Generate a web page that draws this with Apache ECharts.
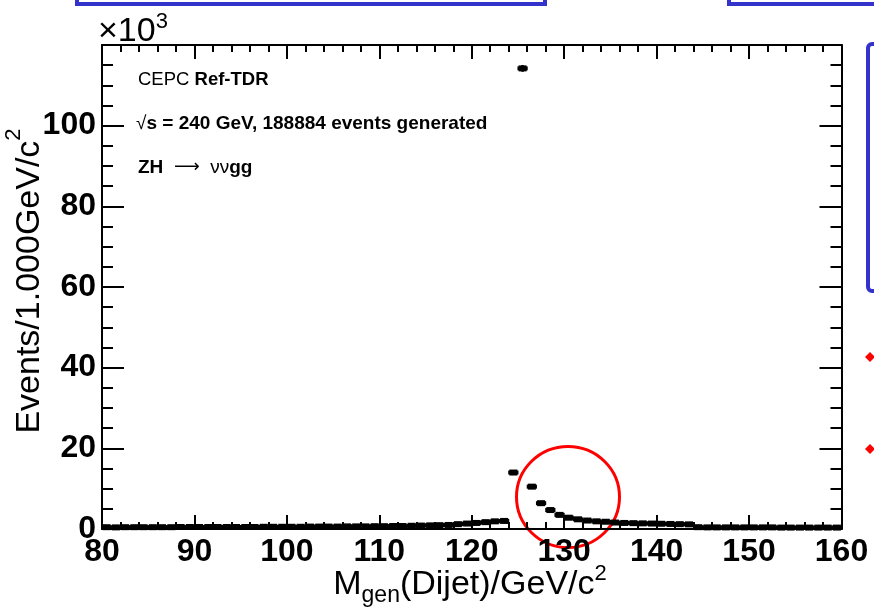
<!DOCTYPE html>
<html>
<head>
<meta charset="utf-8">
<script src="https://cdn.jsdelivr.net/npm/echarts@6/dist/echarts.min.js"></script>
<style>
html,body{margin:0;padding:0;background:#fff;}
#c{width:874px;height:613px;}
</style>
</head>
<body>
<div id="c"></div>
<script>
// Histogram: bin low edge, width and counts (in units of 10^3 events)
const binStart = 80;
const binWidth = 1;
const counts = [
  0.45,0.40,0.45,0.45,0.45,0.45,0.45,0.45,0.50,0.50,
  0.50,0.50,0.50,0.50,0.50,0.50,0.50,0.55,0.55,0.55,
  0.55,0.55,0.60,0.60,0.60,0.60,0.65,0.65,0.65,0.70,
  0.70,0.75,0.75,0.80,0.85,0.90,0.95,1.00,1.20,1.35,
  1.50,1.70,1.90,2.00,14.0,114.2,10.5,6.4,4.7,3.5,
  2.8,2.4,2.1,1.9,1.8,1.6,1.5,1.45,1.4,1.35,
  1.3,1.25,1.2,1.15,0.45,0.40,0.40,0.40,0.40,0.40,
  0.40,0.40,0.40,0.35,0.35,0.35,0.35,0.35,0.35,0.35
];
const xTicks = [80, 90, 100, 110, 120, 130, 140, 150, 160];
const yTicks = [0, 20, 40, 60, 80, 100, 120];

const data = counts.map((v, i) => [binStart + i * binWidth, v, Math.sqrt(v * 1000) / 1000]);

const FONT = '"Liberation Sans", Arial, Helvetica, sans-serif';
const chart = echarts.init(document.getElementById('c'), null, {renderer: 'canvas'});

const commonX = {
  type: 'value', min: xTicks[0], max: xTicks[xTicks.length - 1], interval: 10,
  axisLine: {show: true, onZero: false, lineStyle: {color: '#000', width: 2}},
  axisTick: {show: true, inside: true, length: 14, lineStyle: {color: '#000', width: 2}},
  minorTick: {show: true, splitNumber: 5, length: 7, lineStyle: {color: '#000', width: 2}},
  splitLine: {show: false}
};
const commonY = {
  type: 'value', min: yTicks[0], max: yTicks[yTicks.length - 1], interval: 20,
  axisLine: {show: true, onZero: false, lineStyle: {color: '#000', width: 2}},
  axisTick: {show: true, inside: true, length: 22, lineStyle: {color: '#000', width: 2}},
  minorTick: {show: true, splitNumber: 4, length: 11, lineStyle: {color: '#000', width: 2}},
  splitLine: {show: false}
};

const option = {
  animation: false,
  backgroundColor: '#fff',
  grid: {left: 102, right: 32.5, top: 45, bottom: 84, containLabel: false},
  xAxis: [
    Object.assign({}, commonX, {
      position: 'bottom',
      axisLabel: {show: true, margin: 7, color: '#000', fontFamily: FONT, fontWeight: 'bold', fontSize: 32}
    }),
    Object.assign({}, commonX, {position: 'top', axisLabel: {show: false}})
  ],
  yAxis: [
    Object.assign({}, commonY, {
      position: 'left',
      axisLabel: {show: true, margin: 6, color: '#000', fontFamily: FONT, fontWeight: 'bold', fontSize: 32,
        formatter: v => (v === 120 ? '' : String(v))}
    }),
    Object.assign({}, commonY, {position: 'right', axisLabel: {show: false}})
  ],
  series: [{
    type: 'custom',
    xAxisIndex: 0, yAxisIndex: 0,
    data: data,
    renderItem: function (params, api) {
      const lo = api.value(0), v = api.value(1), e = api.value(2);
      const pL = api.coord([lo, v]);
      const pR = api.coord([lo + binWidth, v]);
      const pC = api.coord([lo + binWidth / 2, v]);
      const pT = api.coord([lo + binWidth / 2, v + e]);
      const pB = api.coord([lo + binWidth / 2, v - e]);
      const s = 6;
      return {
        type: 'group',
        children: [
          {type: 'line', shape: {x1: pL[0] - 0.5, y1: pL[1], x2: pR[0] + 0.5, y2: pR[1]}, style: {stroke: '#000', lineWidth: 4}},
          {type: 'line', shape: {x1: pT[0], y1: pT[1] - 2, x2: pB[0], y2: pB[1] + 2}, style: {stroke: '#000', lineWidth: 2.5}},
          {type: 'rect', shape: {x: pC[0] - s / 2 - 1, y: pC[1] - s / 2, width: s + 2, height: s}, style: {fill: '#000'}}
        ]
      };
    }
  }],
  graphic: [
    // x10^3
    {type: 'text', left: 98, top: 11, style: {
      text: '{a|×10}{b|3}', rich: {
        a: {fontFamily: FONT, fontSize: 34, fill: '#000', lineHeight: 38, verticalAlign: 'bottom'},
        b: {fontFamily: FONT, fontSize: 22, fill: '#000', lineHeight: 38, verticalAlign: 'top'}
      }}},
    // annotations
    {type: 'text', left: 138, top: 70, style: {
      text: '{n|CEPC }{b|Ref-TDR}', rich: {
        n: {fontFamily: FONT, fontSize: 18.5, fill: '#000'},
        b: {fontFamily: FONT, fontSize: 18.5, fontWeight: 'bold', fill: '#000'}
      }}},
    {type: 'text', left: 136, top: 114, style: {
      text: '{n|√}{b|s = 240 GeV, 188884 events generated}', rich: {
        n: {fontFamily: FONT, fontSize: 19, fill: '#000'},
        b: {fontFamily: FONT, fontSize: 19, fontWeight: 'bold', fill: '#000'}
      }}},
    {type: 'text', left: 138, top: 158, style: {
      text: '{b|ZH }{n| }{r|⟶}{n|  νν}{b|gg}', rich: {
        n: {fontFamily: FONT, fontSize: 19, fill: '#000', lineHeight: 22},
        r: {fontFamily: '"DejaVu Sans", sans-serif', fontSize: 18, fill: '#000', lineHeight: 22},
        b: {fontFamily: FONT, fontSize: 19, fontWeight: 'bold', fill: '#000', lineHeight: 22}
      }}},
    // y-axis title
    {type: 'text', x: 25, y: 281, rotation: Math.PI / 2, style: {
      text: '{a|Events/1.000GeV/c}{s|2}', align: 'center', verticalAlign: 'middle', rich: {
        a: {fontFamily: FONT, fontSize: 34, fill: '#000', lineHeight: 44, verticalAlign: 'bottom'},
        s: {fontFamily: FONT, fontSize: 22, fill: '#000', lineHeight: 44, verticalAlign: 'top'}
      }}},
    // x-axis title
    {type: 'text', x: 470, y: 585, style: {
      text: '{a|M}{g|gen}{a|(Dijet)/GeV/c}{s|2}', align: 'center', verticalAlign: 'middle', rich: {
        a: {fontFamily: FONT, fontSize: 34, fill: '#000', lineHeight: 44, verticalAlign: 'middle'},
        g: {fontFamily: FONT, fontSize: 23, fill: '#000', lineHeight: 44, verticalAlign: 'bottom'},
        s: {fontFamily: FONT, fontSize: 22, fill: '#000', lineHeight: 44, verticalAlign: 'top'}
      }}},
    // red circle
    {type: 'ellipse', shape: {cx: 568, cy: 497, rx: 51.5, ry: 50.5}, style: {fill: 'none', stroke: '#ff0000', lineWidth: 3}},
    // blue slide boxes
    {type: 'rect', shape: {x: 77, y: -20, width: 468, height: 24}, style: {fill: 'none', stroke: '#3333cc', lineWidth: 4}},
    {type: 'rect', shape: {x: 729, y: -20, width: 160, height: 24}, style: {fill: 'none', stroke: '#3333cc', lineWidth: 4}},
    {type: 'rect', shape: {x: 868, y: 44, width: 40, height: 247, r: 4}, style: {fill: 'none', stroke: '#3333cc', lineWidth: 4}},
    // red diamonds
    {type: 'polygon', shape: {points: [[870, 352], [875, 357], [870, 362], [865, 357]]}, style: {fill: '#ff0000'}},
    {type: 'polygon', shape: {points: [[870, 444], [875, 449], [870, 454], [865, 449]]}, style: {fill: '#ff0000'}}
  ]
};
chart.setOption(option);
</script>
</body>
</html>
